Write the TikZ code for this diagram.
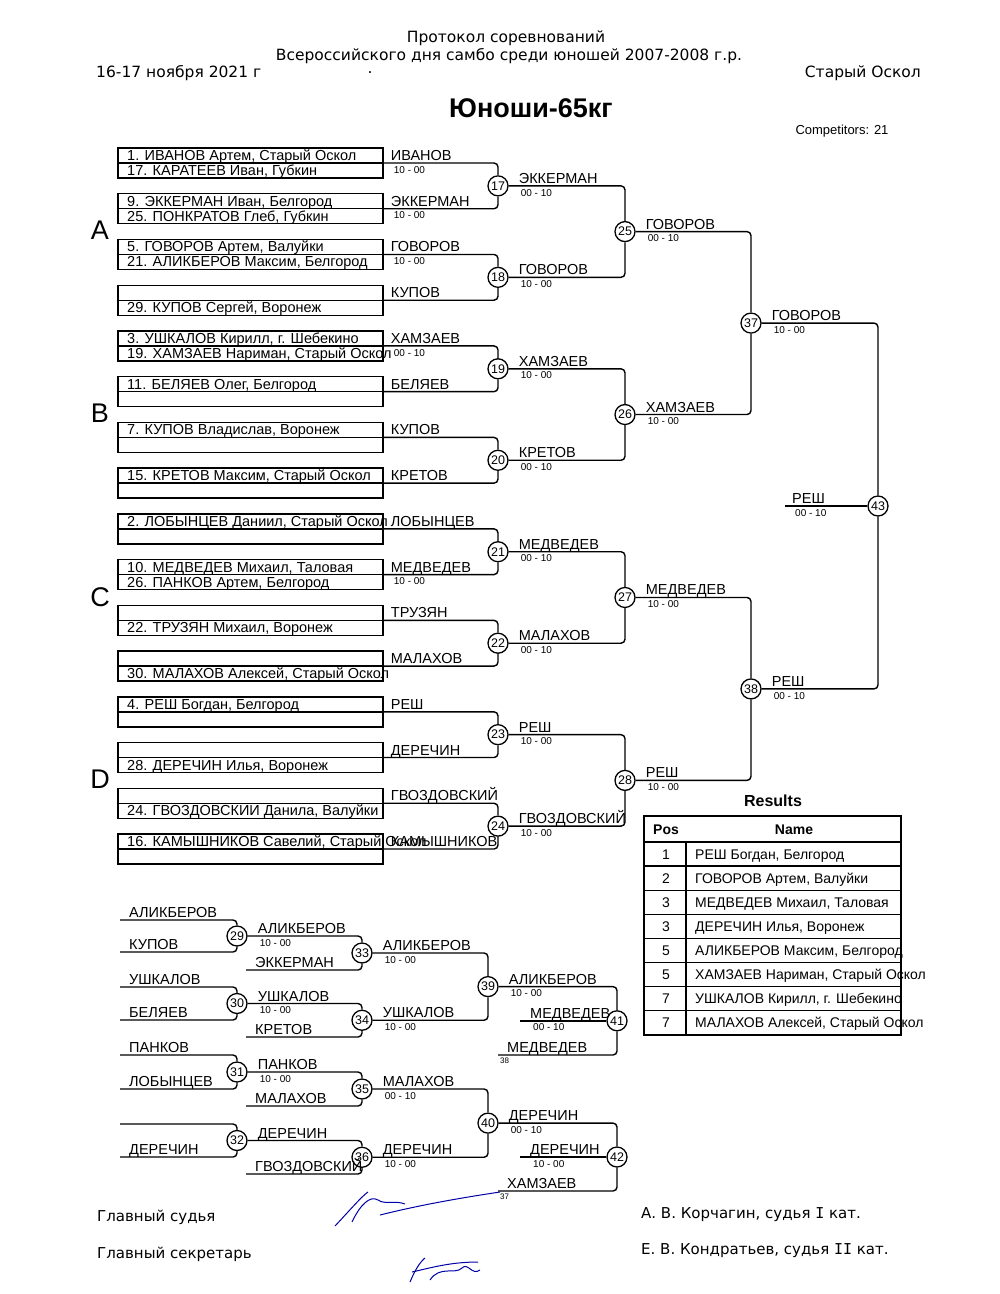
\documentclass[tikz,border=0pt]{standalone}
\usepackage{fontspec}
\setmainfont{Liberation Sans}
\newfontfamily\hdrfont{DejaVu Sans}
\newfontfamily\romfont{DejaVu Sans Mono}
\usepackage{tikz}
\usetikzlibrary{positioning, calc}

\newcommand{\fsz}[1]{\fontsize{#1}{#1}\selectfont}

\tikzset{
  seed/.style={draw, line width=1.4pt, minimum width=265pt, minimum height=30pt, inner sep=0pt},
  bout/.style={draw, circle, line width=1.3pt, fill=white, inner sep=0pt, minimum size=20pt, font=\fsz{12.5}},
  wire/.style={line width=1.4pt, rounded corners=4pt},
  who/.style={anchor=base west, inner sep=0pt, font=\fsz{14.5}},
  score/.style={anchor=north west, inner sep=0pt, font=\fsz{10}},
  entry/.style={anchor=base west, inner sep=0pt, font=\fsz{14.5}},
  hdr/.style={inner sep=0pt, font=\hdrfont\fsz{15.5}},
  foot/.style={anchor=base west, inner sep=0pt, font=\hdrfont\fsz{15}},
  sign/.style={blue!65!black, line width=1pt},
}

\begin{document}
\begin{tikzpicture}[x=1pt, y=-1pt]
\useasboundingbox (0,0) rectangle (1000,1294);

% Header
\node[hdr] (hd1) at (506,38) {Протокол соревнований};
\node[hdr] (hd2) at (509,56) {Всероссийского дня самбо среди юношей 2007-2008 г.р.};
\node[hdr, anchor=west] (date) at (96,73) {16-17 ноября 2021 г};
\node[hdr] (dot) at (370,73) {.};
\node[hdr, anchor=east] (town) at (921,73) {Старый Оскол};
\node[font=\bfseries\fsz{27}] (title) at (531,108) {Юноши-65кг};
\node[font=\fsz{13}, anchor=east] (comp) at (892,131) {Competitors: 21};

% Pool letters
\foreach \p/\y in {A/230, B/413, C/597, D/779}
  \node[font=\fsz{27}] (pool\p) at (100,\y) {\p};

% Seed boxes
\foreach \i/\rowA/\rowB in {
    1/{1. ИВАНОВ Артем, Старый Оскол}/{17. КАРАТЕЕВ Иван, Губкин},
    2/{9. ЭККЕРМАН Иван, Белгород}/{25. ПОНКРАТОВ Глеб, Губкин},
    3/{5. ГОВОРОВ Артем, Валуйки}/{21. АЛИКБЕРОВ Максим, Белгород},
    4/{}/{29. КУПОВ Сергей, Воронеж},
    5/{3. УШКАЛОВ Кирилл, г. Шебекино}/{19. ХАМЗАЕВ Нариман, Старый Оскол},
    6/{11. БЕЛЯЕВ Олег, Белгород}/{},
    7/{7. КУПОВ Владислав, Воронеж}/{},
    8/{15. КРЕТОВ Максим, Старый Оскол}/{},
    9/{2. ЛОБЫНЦЕВ Даниил, Старый Оскол}/{},
    10/{10. МЕДВЕДЕВ Михаил, Таловая}/{26. ПАНКОВ Артем, Белгород},
    11/{}/{22. ТРУЗЯН Михаил, Воронеж},
    12/{}/{30. МАЛАХОВ Алексей, Старый Оскол},
    13/{4. РЕШ Богдан, Белгород}/{},
    14/{}/{28. ДЕРЕЧИН Илья, Воронеж},
    15/{}/{24. ГВОЗДОВСКИИ Данила, Валуйки},
    16/{16. КАМЫШНИКОВ Савелий, Старый Оскол}/{}} {
  \pgfmathsetmacro{\dy}{163+(\i-1)*45.733}
  \node[seed] (p\i) at (250.5,\dy) {};
  \draw[line width=1.4pt] (p\i.west) -- (p\i.east);
  \node[entry] (ta\i) at (127,{\dy-2.5}) {\rowA};
  \node[entry] (tb\i) at (127,{\dy+12.5}) {\rowB};
}

% Bout circles
\foreach \n/\x/\y in {17/498/185.87, 18/498/277.33, 19/498/368.8, 20/498/460.27,
    21/498/551.73, 22/498/643.2, 23/498/734.67, 24/498/826.13,
    25/625/231.6, 26/625/414.53, 27/625/597.47, 28/625/780.4,
    37/751/323.07, 38/751/688.93, 43/878/506}
  \node[bout] (c\n) at (\x,\y) {\n};

% Connectors
\foreach \a/\b in {1/17,2/17,3/18,4/18,5/19,6/19,7/20,8/20,9/21,10/21,11/22,12/22,13/23,14/23,15/24,16/24}
  \draw[wire] (p\a.east) -| (c\b);
\foreach \a/\b in {17/25,18/25,19/26,20/26,21/27,22/27,23/28,24/28,25/37,26/37,27/38,28/38,37/43,38/43}
  \draw[wire] (c\a) -| (c\b);

% First round winners
\foreach \i/\nm/\sc in {1/ИВАНОВ/10 - 00, 2/ЭККЕРМАН/10 - 00, 3/ГОВОРОВ/10 - 00, 4/КУПОВ/{},
    5/ХАМЗАЕВ/00 - 10, 6/БЕЛЯЕВ/{}, 7/КУПОВ/{}, 8/КРЕТОВ/{}, 9/ЛОБЫНЦЕВ/{},
    10/МЕДВЕДЕВ/10 - 00, 11/ТРУЗЯН/{}, 12/МАЛАХОВ/{}, 13/РЕШ/{}, 14/ДЕРЕЧИН/{},
    15/ГВОЗДОВСКИЙ/{}, 16/КАМЫШНИКОВ/{}} {
  \node[who] (w\i) at ($(p\i.east)+(7,-2.5)$) {\nm};
  \node[score] (s\i) at ($(p\i.east)+(10,3)$) {\sc};
}

% Winners after bouts
\foreach \n/\nm/\sc in {17/ЭККЕРМАН/00 - 10, 18/ГОВОРОВ/10 - 00, 19/ХАМЗАЕВ/10 - 00, 20/КРЕТОВ/00 - 10,
    21/МЕДВЕДЕВ/00 - 10, 22/МАЛАХОВ/00 - 10, 23/РЕШ/10 - 00, 24/ГВОЗДОВСКИЙ/10 - 00,
    25/ГОВОРОВ/00 - 10, 26/ХАМЗАЕВ/10 - 00, 27/МЕДВЕДЕВ/10 - 00, 28/РЕШ/10 - 00,
    37/ГОВОРОВ/10 - 00, 38/РЕШ/00 - 10} {
  \node[who] (wc\n) at ($(c\n.east)+(10,-2.5)$) {\nm};
  \node[score] (sc\n) at ($(c\n.east)+(12,3)$) {\sc};
}

% Final
\coordinate (fin) at (785,506);
\draw[wire] (fin) -- (c43);
\node[who] (wfin) at ($(fin)+(7,-2.5)$) {РЕШ};
\node[score] (sfin) at ($(fin)+(10,3)$) {00 - 10};

% Results
\node[font=\bfseries\fsz{16}] (res) at (773,801) {Results};
\draw[line width=2pt] (644,816) rectangle (901,1035);
\foreach \k in {0,...,7}
  \draw[line width=1.3pt] (644,{842+\k*24.1}) -- (901,{842+\k*24.1});
\draw[line width=1.3pt] (686,842) -- (686,1035);
\node[font=\bfseries\fsz{14}, anchor=base, inner sep=0pt] (hpos) at (666,834) {Pos};
\node[font=\bfseries\fsz{14}, anchor=base, inner sep=0pt] (hname) at (794,834) {Name};
\foreach \k/\pos/\nm in {1/1/{РЕШ Богдан, Белгород}, 2/2/{ГОВОРОВ Артем, Валуйки},
    3/3/{МЕДВЕДЕВ Михаил, Таловая}, 4/3/{ДЕРЕЧИН Илья, Воронеж},
    5/5/{АЛИКБЕРОВ Максим, Белгород}, 6/5/{ХАМЗАЕВ Нариман, Старый Оскол},
    7/7/{УШКАЛОВ Кирилл, г. Шебекино}, 8/7/{МАЛАХОВ Алексей, Старый Оскол}} {
  \node[font=\fsz{14}, anchor=base, inner sep=0pt] (rp\k) at (666,{842+(\k-0.5)*24.1+5}) {\pos};
  \node[entry, font=\fsz{14}] (rn\k) at (695,{842+(\k-0.5)*24.1+5}) {\nm};
}

% Repechage bouts
\foreach \n/\x/\y in {29/237/936, 30/237/1003.5, 31/237/1072, 32/237/1140.5,
    33/362/953, 34/362/1020.25, 35/362/1089, 36/362/1157.25,
    39/488/986.6, 40/488/1123.1, 41/617/1020.8, 42/617/1157}
  \node[bout] (c\n) at (\x,\y) {\n};

% Repechage entries
\foreach \nm/\x/\y/\b [count=\j] in {АЛИКБЕРОВ/120/920/29, КУПОВ/120/952/29, УШКАЛОВ/120/987/30,
    БЕЛЯЕВ/120/1020/30, ПАНКОВ/120/1055/31, ЛОБЫНЦЕВ/120/1089/31, {}/120/1124/32,
    ДЕРЕЧИН/120/1157/32, ЭККЕРМАН/246/970/33, КРЕТОВ/246/1037/34, МАЛАХОВ/246/1106/35,
    ГВОЗДОВСКИЙ/246/1174/36, МЕДВЕДЕВ/498/1055/41, ХАМЗАЕВ/498/1191/42} {
  \coordinate (q\j) at (\x,\y);
  \draw[wire] (q\j) -| (c\b);
  \node[who] (qn\j) at ($(q\j)+(9,-2.5)$) {\nm};
}
\node[score, font=\fsz{8}] (from38) at (500,1058) {38};
\node[score, font=\fsz{8}] (from37) at (500,1194) {37};

% Repechage direct entries
\coordinate (d41) at (520,1020.8);
\coordinate (d42) at (520,1157);
\draw[wire] (d41) -- (c41);
\draw[wire] (d42) -- (c42);
\node[who] (wd41) at ($(d41)+(10,-2.5)$) {МЕДВЕДЕВ};
\node[score] (sd41) at ($(d41)+(13,3)$) {00 - 10};
\node[who] (wd42) at ($(d42)+(10,-2.5)$) {ДЕРЕЧИН};
\node[score] (sd42) at ($(d42)+(13,3)$) {10 - 00};

% Repechage winners
\foreach \a/\b/\nm/\sc in {29/33/АЛИКБЕРОВ/10 - 00, 30/34/УШКАЛОВ/10 - 00, 31/35/ПАНКОВ/10 - 00,
    32/36/ДЕРЕЧИН/{}, 33/39/АЛИКБЕРОВ/10 - 00, 34/39/УШКАЛОВ/10 - 00,
    35/40/МАЛАХОВ/00 - 10, 36/40/ДЕРЕЧИН/10 - 00, 39/41/АЛИКБЕРОВ/10 - 00, 40/42/ДЕРЕЧИН/00 - 10} {
  \draw[wire] (c\a) -| (c\b);
  \node[who] (wc\a) at ($(c\a.east)+(10,-2.5)$) {\nm};
  \node[score] (sc\a) at ($(c\a.east)+(12,3)$) {\sc};
}

% Footer
\node[foot] (judge) at (97,1221) {Главный судья};
\node[foot] (secr) at (97,1258) {Главный секретарь};
\node[foot] (jname) at (641,1218) {А. В. Корчагин, судья {\romfont I} кат.};
\node[foot] (sname) at (641,1254) {Е. В. Кондратьев, судья {\romfont II} кат.};

% Signatures
\draw[sign] (335,1226) .. controls (350,1210) and (362,1196) .. (368,1192);
\draw[sign] (352,1222) .. controls (360,1205) and (370,1195) .. (378,1200) .. controls (385,1205) and (395,1200) .. (405,1204);
\draw[sign] (380,1215) .. controls (420,1205) and (460,1198) .. (500,1192);
\draw[sign] (410,1282) .. controls (415,1270) and (420,1262) .. (425,1258);
\draw[sign] (412,1272) .. controls (430,1268) and (450,1262) .. (478,1262);
\draw[sign] (430,1280) .. controls (440,1265) and (455,1275) .. (462,1268) .. controls (468,1262) and (472,1276) .. (480,1270);
\end{tikzpicture}
\end{document}
